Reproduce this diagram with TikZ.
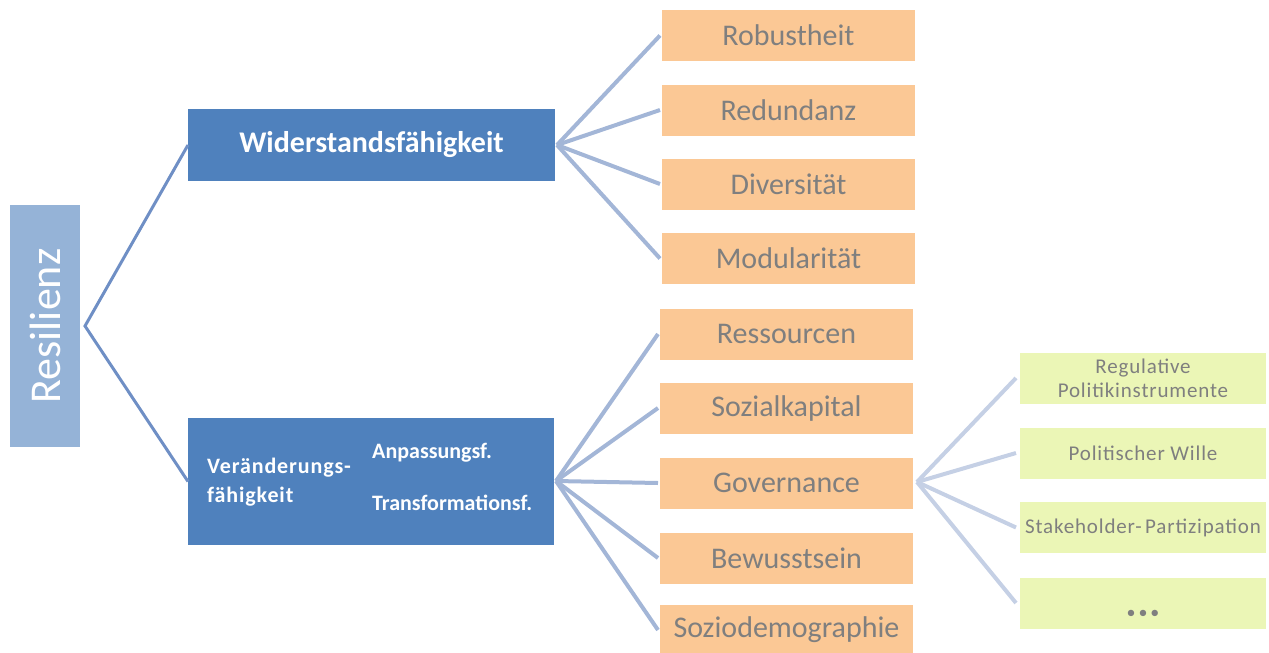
\documentclass[tikz,border=0pt]{standalone}
\usepackage{fontspec}
\setmainfont{Carlito}
\newfontfamily\spacedfont[LetterSpace=4]{Carlito}
\definecolor{resblue}{HTML}{95B3D7}
\definecolor{darkblue}{HTML}{4F81BD}
\definecolor{orangefill}{HTML}{FBC895}
\definecolor{greenfill}{HTML}{EBF6B6}
\definecolor{txtgray}{HTML}{7F7F7F}
\definecolor{lineA}{HTML}{6F8FC5}
\definecolor{lineB}{HTML}{A3B6D7}
\definecolor{lineC}{HTML}{C5D0E5}
\begin{document}
\begin{tikzpicture}[x=1pt,y=-1pt,
  box/.style={rectangle, inner sep=0pt, outer sep=0pt, draw=none},
  obox/.style={box, fill=orangefill, text=txtgray, minimum width=253, minimum height=51, font=\fontsize{30}{34}\selectfont},
  gbox/.style={box, fill=greenfill, text=txtgray, minimum width=246, minimum height=51, font=\spacedfont\fontsize{21}{24}\selectfont, align=center},
  bbox/.style={box, fill=darkblue, text=white, font=\bfseries},
  btxt/.style={inner sep=0pt, text=white, font=\bfseries\fontsize{22}{26}\selectfont, anchor=west},
  conA/.style={draw=lineA, line width=3pt},
  conB/.style={draw=lineB, line width=4pt},
  conC/.style={draw=lineC, line width=4pt}]
\useasboundingbox (0,0) rectangle (1269,653);
% Resilienz
\node[box, fill=resblue, text=white, rotate=90, minimum width=242, minimum height=70, font=\fontsize{44}{48}\selectfont] (res) at (45,326) {Resilienz};
% main boxes
\node[bbox, minimum width=367, minimum height=72, font=\bfseries\fontsize{30}{34}\selectfont] (wid) at (371.5,145) {Widerstandsfähigkeit};
\node[bbox, minimum width=366, minimum height=127] (ver) at (371,481.5) {};
\node[btxt, align=left, font=\spacedfont\bfseries\fontsize{22}{26}\selectfont] (vert) at (207,482) {Veränderungs-\\[3pt]fähigkeit};
\node[btxt] (anp) at (372,453) {Anpassungsf.};
\node[btxt] (tra) at (372,503) {Transformationsf.};
% orange boxes
\node[obox] (o1) at (788.5,35.5) {Robustheit};
\node[obox] (o2) at (788.5,110) {Redundanz};
\node[obox] (o3) at (788.5,184) {Diversität};
\node[obox] (o4) at (788.5,258.5) {Modularität};
\node[obox] (p1) at (786.5,334) {Ressourcen};
\node[obox] (p2) at (786.5,408) {Sozialkapital};
\node[obox] (p3) at (786.5,483) {Governance};
\node[obox] (p4) at (786.5,558) {Bewusstsein};
\node[obox] (p5) at (786.5,630) {Soziodemographie};
% green boxes
\node[gbox] (g1) at (1143,378) {Regulative\\Politikinstrumente};
\node[gbox] (g2) at (1143,453) {Politischer Wille};
\node[gbox] (g3) at (1143,527.5) {Stakeholder-\,Partizipation};
\node[gbox, text height=0pt, text depth=0pt] (g4) at (1143,603) {\raisebox{-15pt}{\fontsize{18}{18}\selectfont •\hspace{3pt}•\hspace{3pt}•}};
% hub points
\coordinate (h0) at (85,326);
\coordinate (hw) at (557,145);
\coordinate (hv) at (556,481);
\coordinate (hg) at (917,482);
% connectors
\draw[conA] (wid.west) -- (h0) -- (ver.west);
\foreach \t in {o1,o2,o3,o4} \draw[conB] (hw) -- ([xshift=-2pt]\t.west);
\foreach \t in {p1,p2,p3,p4,p5} \draw[conB] (hv) -- ([xshift=-2pt]\t.west);
\foreach \t in {g1,g2,g3,g4} \draw[conC] (hg) -- ([xshift=-4pt]\t.west);
\end{tikzpicture}
\end{document}
